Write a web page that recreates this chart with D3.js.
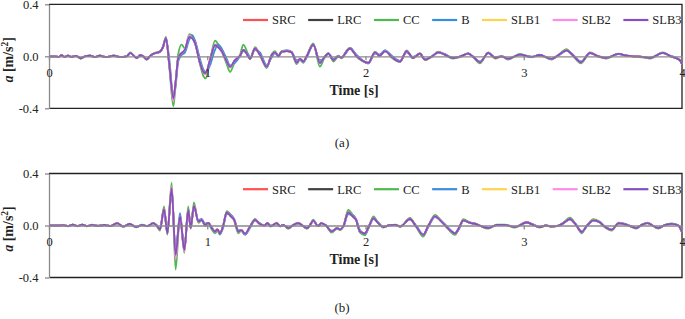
<!DOCTYPE html>
<html>
<head>
<meta charset="utf-8">
<script src="https://cdn.jsdelivr.net/npm/d3@7"></script>
<style>
    body { margin: 0; background: #fff; }
    svg { display: block; font-family: "Liberation Serif", "Times New Roman", serif; }
    .axis path, .axis line { stroke: #8a8a8a; stroke-width: 1.3; }
    .axis text { font-size: 12.5px; fill: #222; font-family: "Liberation Serif", serif; }
    .frame { fill: none; stroke: #222; stroke-width: 1.3; }
    .series { fill: none; stroke-width: 1.8; stroke-linejoin: round; }
    .legend text { font-size: 12.5px; fill: #222; }
    .title { font-size: 14px; font-weight: bold; fill: #222; }
    .caption { font-size: 13px; fill: #222; }
</style>
</head>
<body>
<svg id="chart" width="685" height="319"></svg>
<script>
// series names / colours (legend order = drawing order)
const seriesNames = ['SRC', 'LRC', 'CC', 'B', 'SLB1', 'SLB2', 'SLB3'];
const seriesColors = ['#ff5050', '#404040', '#4fb84f', '#3a8ddb', '#ffd34d', '#ff8be6', '#8250bf'];
const xTicks = [0, 1, 2, 3, 4];
const yTicks = [-0.4, 0, 0.4];
const captions = ['(a)', '(b)'];

// ---- panel (a) ----
const timeA = [0, 0.04, 0.06, 0.08, 0.10, 0.12, 0.14, 0.17, 0.20, 0.23,
    0.26, 0.29, 0.32, 0.36, 0.41, 0.45, 0.49, 0.515, 0.535, 0.555,
    0.575, 0.595, 0.617, 0.64, 0.66, 0.70, 0.72, 0.739, 0.76, 0.786,
    0.80, 0.817, 0.838, 0.859, 0.887, 0.905, 0.923, 0.954, 0.975, 0.99,
    1.017, 1.049, 1.07, 1.091, 1.123, 1.144, 1.175, 1.207, 1.228, 1.259,
    1.27, 1.302, 1.333, 1.376, 1.407, 1.428, 1.449, 1.47, 1.502, 1.533,
    1.565, 1.586, 1.607, 1.628, 1.67, 1.712, 1.744, 1.765, 1.797, 1.828,
    1.849, 1.881, 1.902, 1.944, 1.976, 1.995, 2.018, 2.06, 2.09, 2.123,
    2.17, 2.218, 2.26, 2.30, 2.344, 2.376, 2.42, 2.46, 2.50, 2.55,
    2.60, 2.65, 2.68, 2.723, 2.776, 2.82, 2.86, 2.90, 2.976, 3.05,
    3.10, 3.176, 3.22, 3.271, 3.30, 3.362, 3.419, 3.47, 3.52, 3.598,
    3.65, 3.70, 3.75, 3.798, 3.878, 3.93, 3.987, 4.0];

const srcA = [0, 0, -0.005, 0.008, -0.005, 0.005, -0.005, 0.003, -0.015, 0.002,
    0.005, -0.005, 0.005, -0.005, 0.005, -0.005, 0, 0.026, 0.005, -0.013,
    0.008, 0, -0.024, 0.005, 0.02, 0.035, 0.07, 0.14, -0.06, -0.33,
    -0.2, -0.01, 0.025, 0.05, 0.155, 0.14, 0.1, -0.05, -0.125, -0.135,
    -0.03, 0.09, 0.07, 0.04, -0.04, -0.08, -0.03, 0.005, 0.05, 0,
    -0.02, 0.06, 0.01, -0.08, 0.01, 0.03, 0, 0.035, 0.04, 0.03,
    -0.05, -0.02, -0.04, 0, 0.09, -0.05, 0, 0.02, -0.03, 0,
    -0.01, 0.04, 0.06, 0, -0.03, -0.042, -0.05, 0.03, 0.005, 0.04,
    -0.01, -0.04, 0.04, -0.013, 0.02, -0.026, 0, 0.03, 0.013, -0.013,
    0, 0.02, -0.005, -0.046, 0.026, -0.013, 0, -0.02, 0.013, -0.005,
    0.01, -0.02, 0.01, 0.046, 0.02, -0.046, 0.026, 0, -0.013, 0.018,
    0.005, 0, -0.005, -0.013, 0.026, 0, -0.03, -0.06];

const lrcA = [0, 0, -0.005, 0.008, -0.005, 0.005, -0.005, 0.003, -0.015, 0.002,
    0.005, -0.005, 0.005, -0.005, 0.005, -0.005, 0, 0.026, 0.005, -0.013,
    0.008, 0, -0.024, 0.005, 0.02, 0.035, 0.07, 0.14, -0.06, -0.32,
    -0.2, -0.01, 0.025, 0.05, 0.145, 0.14, 0.1, -0.05, -0.12, -0.135,
    -0.03, 0.085, 0.07, 0.04, -0.045, -0.085, -0.03, 0.005, 0.05, 0,
    -0.02, 0.06, 0.01, -0.08, 0.01, 0.03, 0, 0.035, 0.04, 0.03,
    -0.05, -0.02, -0.04, 0, 0.09, -0.05, 0, 0.02, -0.03, 0,
    -0.01, 0.04, 0.06, 0, -0.03, -0.042, -0.05, 0.03, 0.005, 0.04,
    -0.01, -0.04, 0.04, -0.013, 0.02, -0.026, 0, 0.03, 0.013, -0.013,
    0, 0.02, -0.005, -0.046, 0.026, -0.013, 0, -0.02, 0.013, -0.005,
    0.01, -0.02, 0.01, 0.046, 0.02, -0.046, 0.026, 0, -0.013, 0.018,
    0.005, 0, -0.005, -0.013, 0.026, 0, -0.03, -0.06];

const ccA = [0, 0, -0.006, 0.009, -0.006, 0.006, -0.006, 0.004, -0.017, 0.002,
    0.006, -0.006, 0.006, -0.006, 0.006, -0.006, 0, 0.03, 0.005, -0.015,
    0.009, 0, -0.027, 0.005, 0.022, 0.038, 0.075, 0.15, -0.08, -0.385,
    -0.22, 0.02, 0.09, 0.06, 0.17, 0.16, 0.11, -0.06, -0.15, -0.17,
    -0.04, 0.12, 0.09, 0.04, -0.06, -0.12, -0.04, 0.01, 0.09, 0.01,
    -0.02, 0.07, 0.01, -0.09, 0.015, 0.04, 0.005, 0.04, 0.045, 0.03,
    -0.06, -0.025, -0.05, 0, 0.1, -0.08, 0, 0.025, -0.04, 0,
    -0.015, 0.045, 0.065, 0, -0.035, -0.045, -0.055, 0.035, 0.005, 0.045,
    -0.015, -0.045, 0.045, -0.015, 0.025, -0.03, 0, 0.035, 0.015, -0.018,
    -0.005, 0.025, -0.005, -0.055, 0.03, -0.018, 0, -0.025, 0.018, -0.008,
    0.012, -0.025, 0.012, 0.055, 0.022, -0.055, 0.03, 0, -0.018, 0.02,
    0.005, -0.005, -0.008, -0.018, 0.03, 0, -0.03, -0.06];

const bA = [0, 0, -0.004, 0.007, -0.004, 0.005, -0.004, 0.003, -0.013, 0.002,
    0.004, -0.004, 0.004, -0.004, 0.004, -0.004, 0, 0.022, 0.008, -0.01,
    0.006, 0.002, -0.02, 0.002, 0.018, 0.032, 0.065, 0.135, -0.02, -0.31,
    -0.23, -0.04, 0.01, 0.03, 0.13, 0.16, 0.12, -0.02, -0.1, -0.12,
    -0.07, 0.05, 0.09, 0.06, -0.02, -0.07, -0.05, 0, 0.04, 0.015,
    -0.015, 0.05, 0.03, -0.07, -0.01, 0.025, 0.01, 0.03, 0.045, 0.035,
    -0.03, -0.03, -0.045, -0.01, 0.085, -0.03, -0.01, 0.025, -0.02, 0.005,
    -0.01, 0.03, 0.065, 0.01, -0.025, -0.045, -0.055, 0.02, 0.015, 0.045,
    0, -0.035, 0.03, -0.005, 0.02, -0.02, -0.005, 0.028, 0.018, -0.01,
    -0.003, 0.02, 0, -0.04, 0.022, -0.006, 0, -0.018, 0.012, -0.002,
    0.008, -0.02, 0.005, 0.044, 0.025, -0.04, 0.022, 0.003, -0.012, 0.016,
    0.006, 0, -0.005, -0.012, 0.024, 0.003, -0.028, -0.06];

const slb1A = [0, 0, -0.005, 0.008, -0.005, 0.005, -0.005, 0.003, -0.015, 0.002,
    0.005, -0.005, 0.005, -0.005, 0.005, -0.005, 0, 0.026, 0.005, -0.013,
    0.008, 0, -0.024, 0.005, 0.02, 0.035, 0.07, 0.14, -0.06, -0.33,
    -0.2, -0.01, 0.025, 0.05, 0.15, 0.14, 0.1, -0.05, -0.12, -0.13,
    -0.03, 0.085, 0.07, 0.04, -0.04, -0.08, -0.03, 0.005, 0.05, 0,
    -0.02, 0.06, 0.01, -0.08, 0.01, 0.03, 0, 0.035, 0.04, 0.03,
    -0.05, -0.02, -0.04, 0, 0.09, -0.05, 0, 0.02, -0.03, 0,
    -0.01, 0.04, 0.06, 0, -0.03, -0.042, -0.05, 0.03, 0.005, 0.04,
    -0.01, -0.04, 0.04, -0.013, 0.02, -0.026, 0, 0.03, 0.013, -0.013,
    0, 0.02, -0.005, -0.046, 0.026, -0.013, 0, -0.02, 0.013, -0.005,
    0.01, -0.02, 0.01, 0.046, 0.02, -0.046, 0.026, 0, -0.013, 0.018,
    0.005, 0, -0.005, -0.013, 0.026, 0, -0.03, -0.06];

const slb2A = [0, 0, -0.005, 0.008, -0.005, 0.005, -0.005, 0.003, -0.015, 0.002,
    0.005, -0.005, 0.005, -0.005, 0.005, -0.005, 0, 0.026, 0.005, -0.013,
    0.008, 0, -0.024, 0.005, 0.02, 0.035, 0.07, 0.14, -0.06, -0.345,
    -0.2, -0.01, 0.025, 0.05, 0.16, 0.14, 0.1, -0.05, -0.12, -0.14,
    -0.03, 0.09, 0.07, 0.04, -0.04, -0.085, -0.03, 0.005, 0.05, 0,
    -0.02, 0.06, 0.01, -0.08, 0.01, 0.03, 0, 0.035, 0.04, 0.03,
    -0.05, -0.02, -0.04, 0, 0.09, -0.05, 0, 0.02, -0.03, 0,
    -0.01, 0.04, 0.06, 0, -0.03, -0.042, -0.05, 0.03, 0.005, 0.04,
    -0.01, -0.04, 0.04, -0.013, 0.02, -0.026, 0, 0.03, 0.013, -0.013,
    0, 0.02, -0.005, -0.046, 0.026, -0.013, 0, -0.02, 0.013, -0.005,
    0.01, -0.02, 0.01, 0.046, 0.02, -0.046, 0.026, 0, -0.013, 0.018,
    0.005, 0, -0.005, -0.013, 0.026, 0, -0.03, -0.06];

const slb3A = [0, 0, -0.005, 0.008, -0.005, 0.005, -0.005, 0.003, -0.015, 0.002,
    0.005, -0.005, 0.005, -0.005, 0.005, -0.005, 0, 0.026, 0.005, -0.013,
    0.008, 0, -0.024, 0.005, 0.02, 0.035, 0.07, 0.14, -0.06, -0.325,
    -0.2, -0.01, 0.025, 0.05, 0.15, 0.14, 0.1, -0.05, -0.12, -0.13,
    -0.03, 0.085, 0.07, 0.04, -0.04, -0.08, -0.03, 0.005, 0.05, 0,
    -0.02, 0.06, 0.01, -0.08, 0.01, 0.03, 0, 0.035, 0.04, 0.03,
    -0.05, -0.02, -0.04, 0, 0.09, -0.05, 0, 0.02, -0.03, 0,
    -0.01, 0.04, 0.06, 0, -0.03, -0.042, -0.05, 0.03, 0.005, 0.04,
    -0.01, -0.04, 0.04, -0.013, 0.02, -0.026, 0, 0.03, 0.013, -0.013,
    0, 0.02, -0.005, -0.046, 0.026, -0.013, 0, -0.02, 0.013, -0.005,
    0.01, -0.02, 0.01, 0.046, 0.02, -0.046, 0.026, 0, -0.013, 0.018,
    0.005, 0, -0.005, -0.013, 0.026, 0, -0.03, -0.06];

// ---- panel (b) ----
const timeB = [0, 0.05, 0.09, 0.12, 0.15, 0.18, 0.21, 0.24, 0.27, 0.31,
    0.35, 0.39, 0.43, 0.47, 0.51, 0.55, 0.59, 0.62, 0.659, 0.68,
    0.701, 0.727, 0.748, 0.775, 0.80, 0.828, 0.855, 0.88, 0.895, 0.916,
    0.944, 0.965, 0.986, 1.007, 1.028, 1.049, 1.065, 1.08, 1.10, 1.123,
    1.15, 1.17, 1.196, 1.215, 1.239, 1.27, 1.302, 1.33, 1.36, 1.38,
    1.40, 1.439, 1.46, 1.48, 1.512, 1.545, 1.575, 1.61, 1.63, 1.65,
    1.67, 1.70, 1.72, 1.75, 1.786, 1.82, 1.84, 1.86, 1.891, 1.92,
    1.94, 1.965, 1.997, 2.02, 2.05, 2.08, 2.113, 2.15, 2.19, 2.22,
    2.281, 2.32, 2.365, 2.40, 2.439, 2.48, 2.52, 2.566, 2.59, 2.618,
    2.66, 2.70, 2.73, 2.776, 2.83, 2.88, 2.944, 3.018, 3.06, 3.10,
    3.14, 3.18, 3.22, 3.25, 3.292, 3.33, 3.366, 3.40, 3.44, 3.48,
    3.51, 3.556, 3.60, 3.63, 3.68, 3.71, 3.746, 3.781, 3.85, 3.89,
    3.935, 3.975, 4.0];

const srcB = [0, 0, 0.003, -0.005, 0.006, -0.005, 0.006, -0.005, 0.005, -0.003,
    0.004, -0.004, 0.018, -0.008, 0.012, -0.012, 0.005, -0.005, 0.018, 0,
    -0.03, 0.13, -0.06, 0.29, -0.235, 0.07, -0.19, 0.12, -0.02, 0.15,
    0.03, 0.044, 0.005, 0.02, -0.02, -0.046, -0.03, -0.06, -0.005, 0.1,
    0.07, 0.044, -0.046, -0.035, -0.064, -0.008, 0.044, 0.013, 0, 0.018,
    -0.005, 0.018, -0.005, 0.005, -0.02, 0.005, 0.018, -0.008, -0.02, 0.005,
    0.038, -0.005, 0.018, 0, -0.046, -0.02, -0.03, -0.005, 0.1, 0.07,
    0.044, -0.046, -0.06, -0.01, 0.056, 0.018, -0.013, 0.003, 0.005, -0.008,
    0.05, -0.008, -0.072, 0.005, 0.07, 0.03, -0.02, -0.06, -0.02, 0.04,
    0.02, 0.01, -0.005, -0.02, 0.005, 0.005, -0.013, 0.023, 0.005, -0.013,
    0, -0.008, 0, 0.018, 0.05, 0.005, -0.05, 0, 0.04, 0.025,
    -0.008, -0.033, 0.018, 0.013, -0.008, -0.02, 0.005, 0.018, -0.02, 0.003,
    0.013, 0.002, -0.05];

const lrcB = [0, 0, 0.003, -0.005, 0.006, -0.005, 0.006, -0.005, 0.005, -0.003,
    0.004, -0.004, 0.018, -0.008, 0.012, -0.012, 0.005, -0.005, 0.018, 0,
    -0.03, 0.126, -0.06, 0.28, -0.22, 0.07, -0.187, 0.125, -0.02, 0.15,
    0.03, 0.044, 0.005, 0.02, -0.02, -0.046, -0.03, -0.06, -0.005, 0.1,
    0.07, 0.044, -0.046, -0.035, -0.064, -0.008, 0.044, 0.013, 0, 0.018,
    -0.005, 0.018, -0.005, 0.005, -0.02, 0.005, 0.018, -0.008, -0.02, 0.005,
    0.038, -0.005, 0.018, 0, -0.046, -0.02, -0.03, -0.005, 0.1, 0.07,
    0.044, -0.046, -0.06, -0.01, 0.056, 0.018, -0.013, 0.003, 0.005, -0.008,
    0.05, -0.008, -0.072, 0.005, 0.07, 0.03, -0.02, -0.06, -0.02, 0.04,
    0.02, 0.01, -0.005, -0.02, 0.005, 0.005, -0.013, 0.023, 0.005, -0.013,
    0, -0.008, 0, 0.018, 0.05, 0.005, -0.05, 0, 0.04, 0.025,
    -0.008, -0.033, 0.018, 0.013, -0.008, -0.02, 0.005, 0.018, -0.02, 0.003,
    0.013, 0.002, -0.05];

const ccB = [0, 0, 0.003, -0.006, 0.007, -0.006, 0.007, -0.006, 0.006, -0.004,
    0.005, -0.005, 0.02, -0.01, 0.014, -0.014, 0.006, -0.006, 0.02, 0,
    -0.04, 0.146, -0.07, 0.33, -0.34, 0.08, -0.21, 0.146, -0.025, 0.177,
    0.02, 0.04, -0.005, 0.01, -0.03, -0.06, -0.04, -0.07, -0.005, 0.11,
    0.08, 0.04, -0.06, -0.04, -0.07, -0.01, 0.05, 0.015, 0, 0.02,
    -0.008, 0.022, -0.008, 0.005, -0.025, 0.005, 0.022, -0.01, -0.025, 0.005,
    0.045, -0.006, 0.02, 0, -0.055, -0.025, -0.035, -0.005, 0.12, 0.08,
    0.045, -0.055, -0.075, -0.012, 0.07, 0.02, -0.016, 0.003, 0.006, -0.01,
    0.058, -0.01, -0.085, 0.005, 0.082, 0.035, -0.024, -0.072, -0.024, 0.048,
    0.024, 0.012, -0.006, -0.024, 0.006, 0.006, -0.016, 0.027, 0.006, -0.016,
    0, -0.01, 0, 0.022, 0.06, 0.006, -0.06, 0, 0.048, 0.03,
    -0.01, -0.04, 0.022, 0.016, -0.01, -0.024, 0.006, 0.022, -0.024, 0.004,
    0.016, 0.002, -0.05];

const bB = [0, 0, 0.003, -0.004, 0.005, -0.004, 0.005, -0.004, 0.004, -0.003,
    0.003, -0.003, 0.015, -0.006, 0.01, -0.01, 0.004, -0.004, 0.016, 0.002,
    -0.025, 0.11, -0.04, 0.26, -0.2, 0.095, -0.19, 0.1, 0, 0.14,
    0.04, 0.05, 0.015, 0.02, -0.01, -0.05, -0.035, -0.065, -0.02, 0.09,
    0.08, 0.05, -0.035, -0.04, -0.07, -0.02, 0.04, 0.02, 0, 0.015,
    0, 0.015, -0.003, 0.003, -0.02, 0, 0.015, -0.005, -0.02, 0,
    0.035, 0, 0.015, 0.003, -0.04, -0.025, -0.03, -0.012, 0.085, 0.08,
    0.05, -0.035, -0.065, -0.02, 0.05, 0.025, -0.01, 0, 0.005, -0.005,
    0.048, 0, -0.068, -0.005, 0.065, 0.035, -0.012, -0.058, -0.03, 0.035,
    0.022, 0.012, -0.003, -0.018, 0.003, 0.005, -0.01, 0.02, 0.008, -0.01,
    0, -0.006, -0.002, 0.015, 0.048, 0.01, -0.046, -0.005, 0.038, 0.028,
    -0.004, -0.03, 0.014, 0.014, -0.006, -0.02, 0.003, 0.018, -0.018, 0.002,
    0.012, 0.003, -0.05];

const slb1B = [0, 0, 0.003, -0.005, 0.006, -0.005, 0.006, -0.005, 0.005, -0.003,
    0.004, -0.004, 0.018, -0.008, 0.012, -0.012, 0.005, -0.005, 0.018, 0,
    -0.03, 0.126, -0.06, 0.295, -0.245, 0.07, -0.195, 0.12, -0.02, 0.15,
    0.03, 0.044, 0.005, 0.02, -0.02, -0.046, -0.03, -0.06, -0.005, 0.1,
    0.07, 0.044, -0.046, -0.035, -0.064, -0.008, 0.044, 0.013, 0, 0.018,
    -0.005, 0.018, -0.005, 0.005, -0.02, 0.005, 0.018, -0.008, -0.02, 0.005,
    0.038, -0.005, 0.018, 0, -0.046, -0.02, -0.03, -0.005, 0.1, 0.07,
    0.044, -0.046, -0.06, -0.01, 0.056, 0.018, -0.013, 0.003, 0.005, -0.008,
    0.05, -0.008, -0.072, 0.005, 0.07, 0.03, -0.02, -0.06, -0.02, 0.04,
    0.02, 0.01, -0.005, -0.02, 0.005, 0.005, -0.013, 0.023, 0.005, -0.013,
    0, -0.008, 0, 0.018, 0.05, 0.005, -0.05, 0, 0.04, 0.025,
    -0.008, -0.033, 0.018, 0.013, -0.008, -0.02, 0.005, 0.018, -0.02, 0.003,
    0.013, 0.002, -0.05];

const slb2B = [0, 0, 0.003, -0.005, 0.006, -0.005, 0.006, -0.005, 0.005, -0.003,
    0.004, -0.004, 0.018, -0.008, 0.012, -0.012, 0.005, -0.005, 0.018, 0,
    -0.03, 0.126, -0.06, 0.3, -0.26, 0.07, -0.2, 0.12, -0.02, 0.155,
    0.03, 0.044, 0.005, 0.02, -0.02, -0.046, -0.03, -0.06, -0.005, 0.1,
    0.07, 0.044, -0.046, -0.035, -0.064, -0.008, 0.044, 0.013, 0, 0.018,
    -0.005, 0.018, -0.005, 0.005, -0.02, 0.005, 0.018, -0.008, -0.02, 0.005,
    0.038, -0.005, 0.018, 0, -0.046, -0.02, -0.03, -0.005, 0.1, 0.07,
    0.044, -0.046, -0.06, -0.01, 0.056, 0.018, -0.013, 0.003, 0.005, -0.008,
    0.05, -0.008, -0.072, 0.005, 0.07, 0.03, -0.02, -0.06, -0.02, 0.04,
    0.02, 0.01, -0.005, -0.02, 0.005, 0.005, -0.013, 0.023, 0.005, -0.013,
    0, -0.008, 0, 0.018, 0.05, 0.005, -0.05, 0, 0.04, 0.025,
    -0.008, -0.033, 0.018, 0.013, -0.008, -0.02, 0.005, 0.018, -0.02, 0.003,
    0.013, 0.002, -0.05];

const slb3B = [0, 0, 0.003, -0.005, 0.006, -0.005, 0.006, -0.005, 0.005, -0.003,
    0.004, -0.004, 0.018, -0.008, 0.012, -0.012, 0.005, -0.005, 0.018, 0,
    -0.03, 0.126, -0.06, 0.287, -0.226, 0.07, -0.187, 0.12, -0.02, 0.15,
    0.03, 0.044, 0.005, 0.02, -0.02, -0.046, -0.03, -0.06, -0.005, 0.1,
    0.07, 0.044, -0.046, -0.035, -0.064, -0.008, 0.044, 0.013, 0, 0.018,
    -0.005, 0.018, -0.005, 0.005, -0.02, 0.005, 0.018, -0.008, -0.02, 0.005,
    0.038, -0.005, 0.018, 0, -0.046, -0.02, -0.03, -0.005, 0.1, 0.07,
    0.044, -0.046, -0.06, -0.01, 0.056, 0.018, -0.013, 0.003, 0.005, -0.008,
    0.05, -0.008, -0.072, 0.005, 0.07, 0.03, -0.02, -0.06, -0.02, 0.04,
    0.02, 0.01, -0.005, -0.02, 0.005, 0.005, -0.013, 0.023, 0.005, -0.013,
    0, -0.008, 0, 0.018, 0.05, 0.005, -0.05, 0, 0.04, 0.025,
    -0.008, -0.033, 0.018, 0.013, -0.008, -0.02, 0.005, 0.018, -0.02, 0.003,
    0.013, 0.002, -0.05];

class AccelChart {
    constructor(_config, _time, _series) {
        this.config = {
            parentElement: _config.parentElement,
            top: _config.top,
            caption: _config.caption,
            captionY: _config.captionY,
            containerWidth: 685,
            plotHeight: 104,
            margin: {left: 49, right: 3}
        };
        this.time = _time;
        this.series = _series;
        this.initVis();
    }

    initVis() {
        let vis = this;
        const c = vis.config;

        vis.xScale = d3.scaleLinear()
            .domain([0, 4])
            .range([c.margin.left, c.containerWidth - c.margin.right]);

        vis.yScale = d3.scaleLinear()
            .domain([-0.4, 0.4])
            .range([c.top + c.plotHeight, c.top]);

        vis.xAxis = d3.axisBottom(vis.xScale)
            .tickValues(xTicks)
            .tickSize(4)
            .tickSizeOuter(0)
            .tickPadding(7.5)
            .tickFormat(d3.format('d'));

        vis.yAxis = d3.axisLeft(vis.yScale)
            .tickValues(yTicks)
            .tickSize(4)
            .tickSizeOuter(0)
            .tickPadding(6.5)
            .tickFormat(d => d.toFixed(1));

        vis.chart = d3.select(c.parentElement).append('g');

        vis.renderVis();
    }

    renderVis() {
        let vis = this;
        const c = vis.config;
        const x0 = vis.xScale.range()[0], x1 = vis.xScale.range()[1];
        const yTop = vis.yScale.range()[1], yBot = vis.yScale.range()[0];
        const y0 = vis.yScale(0);

        // plot-area border (top, right, bottom)
        vis.chart.append('path')
            .attr('class', 'frame')
            .attr('d', `M${x0},${yTop}H${x1}V${yBot}H${x0}`);

        // series lines
        const line = d3.line()
            .x((d, i) => vis.xScale(vis.time[i]))
            .y(d => vis.yScale(d))
            .curve(d3.curveMonotoneX);

        vis.chart.selectAll('.series')
            .data(vis.series)
          .join('path')
            .attr('class', 'series')
            .attr('stroke', d => d.color)
            .attr('d', d => line(d.values));

        // axes
        vis.chart.append('g')
            .attr('class', 'axis y-axis')
            .attr('transform', `translate(${x0},0)`)
            .call(vis.yAxis);

        vis.chart.append('g')
            .attr('class', 'axis x-axis')
            .attr('transform', `translate(0,${y0})`)
            .call(vis.xAxis);

        // legend
        const legend = vis.chart.append('g').attr('class', 'legend');
        let lx = 243;
        const ly = yTop + 15.7;
        vis.series.forEach(s => {
            legend.append('line')
                .attr('x1', lx).attr('x2', lx + 25)
                .attr('y1', ly).attr('y2', ly)
                .attr('stroke', s.color)
                .attr('stroke-width', 2.2);
            const t = legend.append('text')
                .attr('x', lx + 29)
                .attr('y', ly)
                .attr('dy', '0.35em')
                .text(s.name);
            lx += 29 + t.node().getComputedTextLength() + 12.5;
        });

        // axis titles
        vis.chart.append('text')
            .attr('class', 'title')
            .attr('x', 354)
            .attr('y', y0 + 33.5)
            .attr('dy', '0.35em')
            .attr('text-anchor', 'middle')
            .text('Time [s]');

        const yt = vis.chart.append('text')
            .attr('class', 'title')
            .attr('transform', `translate(13,${y0 + 3.5}) rotate(-90)`)
            .attr('text-anchor', 'middle');
        yt.append('tspan').attr('font-style', 'italic').text('a');
        yt.append('tspan').text(' [m/s');
        yt.append('tspan').attr('dy', -5).attr('font-size', '9.5px').text('2');
        yt.append('tspan').attr('dy', 5).text(']');

        // caption
        vis.chart.append('text')
            .attr('class', 'caption')
            .attr('x', 342)
            .attr('y', c.captionY)
            .attr('dy', '0.35em')
            .attr('text-anchor', 'middle')
            .text(c.caption);
    }
}

const valuesA = [srcA, lrcA, ccA, bA, slb1A, slb2A, slb3A];
const valuesB = [srcB, lrcB, ccB, bB, slb1B, slb2B, slb3B];
const toSeries = vals => seriesNames.map((n, i) => ({name: n, color: seriesColors[i], values: vals[i]}));

new AccelChart({parentElement: '#chart', top: 4.3, caption: captions[0], captionY: 142}, timeA, toSeries(valuesA));
new AccelChart({parentElement: '#chart', top: 173.5, caption: captions[1], captionY: 307}, timeB, toSeries(valuesB));
</script>
</body>
</html>
